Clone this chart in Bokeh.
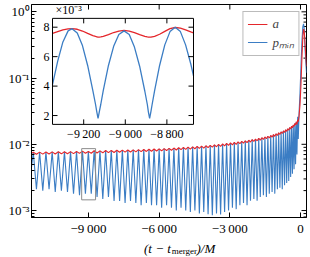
from bokeh.plotting import figure
from bokeh.layouts import column
from bokeh.models import Range1d, LinearScale, FixedTicker, CustomJSTickFormatter, Legend, LegendItem
from bokeh.core.properties import value
from bokeh.embed import file_html
from bokeh.resources import INLINE

# ---------------- data ----------------
peak_t = [-11344, -11075, -10807, -10542, -10281, -10021, -9763, -9508, -9256, -9006,
          -8760, -8514, -8272, -8033, -7797, -7562, -7331, -7102, -6877, -6653,
          -6433, -6216, -6001, -5789, -5580, -5374, -5171, -4970, -4773, -4579,
          -4387, -4199, -4014, -3832, -3653, -3478, -3306, -3137, -2971, -2809,
          -2650, -2495, -2343, -2195, -2050, -1910, -1773, -1640, -1510, -1385,
          -1264, -1147, -1035, -927, -823, -724, -630, -541, -457, -378,
          -306, -239, -178]
peak_v = [0.00760, 0.00762, 0.00765, 0.00768, 0.00770, 0.00773, 0.00776, 0.00780, 0.00790, 0.00778,
          0.00800, 0.00795, 0.00805, 0.00808, 0.00812, 0.00816, 0.00820, 0.00825, 0.00830, 0.00836,
          0.00842, 0.00848, 0.00855, 0.00862, 0.00870, 0.00878, 0.00887, 0.00896, 0.00906, 0.00916,
          0.00927, 0.00938, 0.00950, 0.00965, 0.00980, 0.00996, 0.01012, 0.01030, 0.01048, 0.01067,
          0.01087, 0.01108, 0.01130, 0.01153, 0.01177, 0.01202, 0.01229, 0.01258, 0.01290, 0.01324,
          0.01360, 0.01400, 0.01444, 0.01490, 0.01540, 0.01595, 0.01655, 0.01720, 0.01790, 0.01870,
          0.01960, 0.02060, 0.02180]
min_t = [-11210, -10941, -10675, -10412, -10151, -9892, -9636, -9382, -9131, -8883,
         -8637, -8393, -8153, -7915, -7680, -7447, -7217, -6990, -6765, -6543,
         -6325, -6109, -5895, -5685, -5477, -5273, -5071, -4872, -4676, -4483,
         -4293, -4107, -3923, -3743, -3566, -3392, -3222, -3054, -2890, -2730,
         -2573, -2419, -2269, -2123, -1980, -1842, -1707, -1575, -1448, -1325,
         -1206, -1091, -981, -875, -774, -677, -586, -499, -418, -342,
         -273, -209]
pmin_low = [0.0021, 0.0020, 0.0021, 0.0019, 0.0020, 0.0019, 0.0018, 0.0017, 0.0018, 0.0018,
            0.0016, 0.0015, 0.0016, 0.0014, 0.0014, 0.0013, 0.0014, 0.0013, 0.0012, 0.0013,
            0.0012, 0.0012, 0.0011, 0.0012, 0.0011, 0.0010, 0.0011, 0.0010, 0.00095, 0.0010,
            0.0009, 0.00095, 0.00088, 0.00085, 0.0009, 0.00087, 0.00095, 0.0010, 0.0011, 0.00105,
            0.0012, 0.0013, 0.0012, 0.0014, 0.0015, 0.0014, 0.0016, 0.0017, 0.0016, 0.0018,
            0.0019, 0.0018, 0.0021, 0.0022, 0.0021, 0.0024, 0.0026, 0.0028, 0.0032, 0.0036,
            0.0042, 0.0050]
a_low = [0.00708, 0.00711, 0.00713, 0.00715, 0.00718, 0.00721, 0.00724, 0.00730, 0.00733, 0.00732,
         0.00740, 0.00744, 0.00750, 0.00753, 0.00757, 0.00761, 0.00765, 0.00770, 0.00775, 0.00780,
         0.00786, 0.00792, 0.00798, 0.00805, 0.00813, 0.00820, 0.00829, 0.00838, 0.00847, 0.00857,
         0.00867, 0.00878, 0.00891, 0.00904, 0.00918, 0.00933, 0.00948, 0.00965, 0.00982, 0.01000,
         0.01020, 0.01040, 0.01061, 0.01083, 0.01106, 0.01130, 0.01155, 0.01183, 0.01213, 0.01246,
         0.01281, 0.01320, 0.01362, 0.01408, 0.01457, 0.01510, 0.01568, 0.01630, 0.01697, 0.01773,
         0.01860, 0.01960]
start_t, start_p, start_a = -11420, 0.0045, 0.0073
merge_t = [-150, -120, -95, -60, -20, 20, 60, 100, 130, 160, 200, 255]
merge_p = [0.007, 0.026, 0.012, 0.03, 0.06, 0.15, 0.35, 0.60, 0.66, 0.55, 0.25, 0.12]
merge_a = [0.0200, 0.0235, 0.0220, 0.027, 0.04, 0.08, 0.20, 0.42, 0.55, 0.50, 0.30, 0.15]

# inset (values in units of 1e-3)
inset_t = [-9350, -9325, -9300, -9275, -9256, -9231, -9206, -9181, -9156, -9143,
           -9137, -9131, -9125, -9118, -9106, -9081, -9056, -9031, -9006, -8981,
           -8956, -8931, -8906, -8894, -8889, -8883, -8877, -8871, -8859, -8835,
           -8810, -8785, -8760, -8735, -8710, -8685, -8672]
inset_p = [4.1, 5.7, 7.0, 7.75, 7.9, 7.6, 6.75, 5.4, 3.7, 2.75,
           2.25, 1.8, 2.25, 2.75, 3.7, 5.4, 6.7, 7.5, 7.75, 7.5,
           6.65, 5.35, 3.65, 2.75, 2.25, 1.8, 2.25, 2.75, 3.7, 5.4,
           6.8, 7.7, 8.0, 7.7, 6.8, 5.5, 4.7]
inset_a = [7.58, 7.70, 7.82, 7.89, 7.90, 7.86, 7.74, 7.58, 7.43, 7.37,
           7.35, 7.33, 7.33, 7.34, 7.38, 7.50, 7.64, 7.74, 7.78, 7.74,
           7.63, 7.49, 7.38, 7.34, 7.33, 7.32, 7.32, 7.34, 7.38, 7.52,
           7.72, 7.90, 7.98, 7.93, 7.82, 7.68, 7.62]
inset_xlim = (-9350, -8672)
inset_ylim = (1.4, 8.6)
inset_xticks = [-9200, -9000, -8800]
inset_yticks = [2, 4, 6, 8]
box_x = (-9290, -8700)          # grey box marking the zoomed region
box_y = (1.45e-3, 8.6e-3)

main_xlim = (-11420, 255)
main_ylim = (7.85e-4, 1.29)
main_xticks = [-9000, -6000, -3000, 0]
main_yticks = [1e-3, 1e-2, 1e-1, 1.0]

RED = "#e4262b"
BLUE = "#3b7dc4"
FONT = "Liberation Serif"

# ---------------- assemble series ----------------
bt, bp, ba = [start_t], [start_p], [start_a]
for i in range(len(min_t)):
    bt += [peak_t[i], min_t[i]]
    bp += [peak_v[i], pmin_low[i]]
    ba += [peak_v[i], a_low[i]]
bt.append(peak_t[-1]); bp.append(peak_v[-1]); ba.append(peak_v[-1])
bt += merge_t; bp += merge_p; ba += merge_a


def fmt(v):
    s = f"{abs(v):,}".replace(",", "\u2009")
    return ("\u2212" if v < 0 else "") + s


# ---------------- figure ----------------
p = figure(width=310, height=238, x_range=Range1d(*main_xlim), y_range=Range1d(*main_ylim),
           y_axis_type="log", output_backend="svg", toolbar_location=None,
           min_border_left=31, min_border_right=4, min_border_top=4, min_border_bottom=19,
           background_fill_color="white", border_fill_color="white",
           outline_line_color="black", outline_line_width=1)
p.xgrid.grid_line_color = None
p.ygrid.grid_line_color = None

for ax in (p.xaxis[0], p.yaxis[0]):
    ax.major_tick_in = 5
    ax.major_tick_out = 0
    ax.minor_tick_in = 3
    ax.minor_tick_out = 0
    ax.axis_line_color = "black"
    ax.major_tick_line_color = "black"
    ax.minor_tick_line_color = "black"
    ax.major_label_text_font = FONT
    ax.major_label_text_color = "black"
    ax.major_label_text_font_size = "13px"
    ax.major_label_standoff = 3

minor_y = [m * 10.0 ** e for e in range(-4, 1) for m in range(2, 10)]
minor_y = [v for v in minor_y if main_ylim[0] < v < main_ylim[1]]
sup_js = """
const sup = {"-": "\u207b", "0": "\u2070", "1": "\u00b9", "2": "\u00b2", "3": "\u00b3",
             "4": "\u2074", "5": "\u2075", "6": "\u2076", "7": "\u2077", "8": "\u2078", "9": "\u2079"};
const e = Math.round(Math.log10(tick));
return "10" + String(e).split("").map(c => sup[c]).join("");
"""
p.yaxis[0].ticker = FixedTicker(ticks=main_yticks, minor_ticks=minor_y)
p.yaxis[0].formatter = CustomJSTickFormatter(code=sup_js)
p.yaxis[0].major_label_standoff = 2
p.xaxis[0].ticker = FixedTicker(ticks=main_xticks, minor_ticks=[])
p.xaxis[0].major_label_overrides = {v: fmt(v) for v in main_xticks}

# ticks on the top and right edges of the frame
TKM = dict(length_units="screen", line_color="black", line_width=1)
p.ray(x=main_xticks, y=[main_ylim[1]] * len(main_xticks), angle=-1.5708, length=5, **TKM)
p.ray(x=[main_xlim[1]] * len(main_yticks), y=main_yticks, angle=3.14159, length=5, **TKM)
p.ray(x=[main_xlim[1]] * len(minor_y), y=minor_y, angle=3.14159, length=3, **TKM)

# ---------------- main curves ----------------
r_p = p.line(bt, bp, color=BLUE, line_width=1.1)
r_a = p.line(bt, ba, color=RED, line_width=1.1)

p.quad(left=[box_x[0]], right=[box_x[1]], bottom=[box_y[0]], top=[box_y[1]],
       fill_color=None, line_color="#8c8c8c", line_width=1)

# ---------------- inset (drawn through extra ranges) ----------------
fx0, fx1 = 0.0764, 0.5891   # inset box as fractions of the frame
fy0, fy1 = 0.4372, 0.9349
sx = (inset_xlim[1] - inset_xlim[0]) / (fx1 - fx0)
sy = (inset_ylim[1] - inset_ylim[0]) / (fy1 - fy0)
ixs = inset_xlim[0] - fx0 * sx
iys = inset_ylim[0] - fy0 * sy
p.extra_x_ranges = {"ix": Range1d(ixs, ixs + sx)}
p.extra_y_ranges = {"iy": Range1d(iys, iys + sy)}
p.extra_x_scales = {"ix": LinearScale()}
p.extra_y_scales = {"iy": LinearScale()}
IN = dict(x_range_name="ix", y_range_name="iy")

p.quad(left=[inset_xlim[0]], right=[inset_xlim[1]], bottom=[inset_ylim[0]], top=[inset_ylim[1]],
       fill_color="white", line_color=None, **IN)
p.line(inset_t, inset_a, color=RED, line_width=1.3, **IN)
p.line(inset_t, inset_p, color=BLUE, line_width=1.3, **IN)
p.quad(left=[inset_xlim[0]], right=[inset_xlim[1]], bottom=[inset_ylim[0]], top=[inset_ylim[1]],
       fill_color=None, line_color="black", line_width=1, **IN)

TK = dict(length=5, length_units="screen", line_color="black", line_width=1, **IN)
p.ray(x=inset_xticks, y=[inset_ylim[0]] * len(inset_xticks), angle=1.5708, **TK)
p.ray(x=inset_xticks, y=[inset_ylim[1]] * len(inset_xticks), angle=-1.5708, **TK)
p.ray(x=[inset_xlim[0]] * len(inset_yticks), y=inset_yticks, angle=0, **TK)
p.ray(x=[inset_xlim[1]] * len(inset_yticks), y=inset_yticks, angle=3.14159, **TK)

TX = dict(text_font=value(FONT), text_font_size="12px", text_color="black", **IN)
p.text(x=inset_xticks, y=[inset_ylim[0]] * len(inset_xticks), text=[fmt(v) for v in inset_xticks],
       text_align="center", text_baseline="top", y_offset=3, **TX)
p.text(x=[inset_xlim[0]] * len(inset_yticks), y=inset_yticks, text=[str(v) for v in inset_yticks],
       text_align="right", text_baseline="middle", x_offset=-3, **TX)
p.text(x=[inset_xlim[0]], y=[inset_ylim[1]], text=["\u00d710\u207b\u00b3"],
       text_align="left", text_baseline="bottom", x_offset=3, y_offset=-1, **TX)

# ---------------- legend ----------------
legend = Legend(items=[LegendItem(label="a", renderers=[r_a]),
                       LegendItem(label="p\u2098\u1d62\u2099", renderers=[r_p])],
                location="top_right", label_text_font=FONT, label_text_font_style="italic",
                label_text_font_size="13px", glyph_width=20, glyph_height=12, label_height=12,
                label_standoff=5, padding=4, spacing=1, margin=7,
                border_line_color="#777777", border_line_width=1,
                background_fill_color="white", background_fill_alpha=1)
p.add_layout(legend)

# ---------------- x-axis label strip:  (t − t_merger)/M ----------------
q = figure(width=310, height=19, x_range=Range1d(0, 310), y_range=Range1d(0, 19),
           output_backend="svg", toolbar_location=None, min_border=0,
           outline_line_color=None, background_fill_color="white", border_fill_color="white")
q.axis.visible = False
q.grid.visible = False
QT = dict(text_font=value(FONT), text_color="black", text_baseline="alphabetic")
q.text(x=[157], y=[9.5], text=["(t \u2212 t"], text_align="right", text_font_size="13px",
       text_font_style="italic", **QT)
q.text(x=[158], y=[6.5], text=["merger"], text_align="left", text_font_size="9px", **QT)
q.text(x=[186], y=[9.5], text=[")/M"], text_align="left", text_font_size="13px",
       text_font_style="italic", **QT)

open("out.html", "w").write(file_html(column(p, q, spacing=0), INLINE))
